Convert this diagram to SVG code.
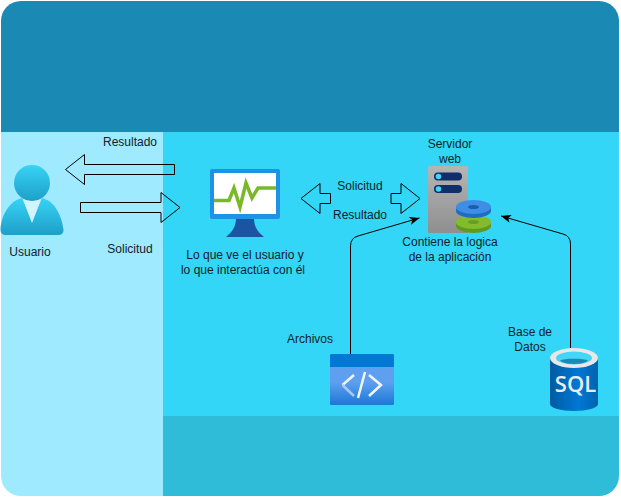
<svg xmlns="http://www.w3.org/2000/svg" width="621" height="497" viewBox="0 0 621 497">
<style>
text{font-family:"Liberation Sans",Arial,sans-serif;font-size:12px;fill:#10222a;text-anchor:middle}
.block{fill:none;stroke:#000;stroke-width:1}
.conn{fill:none;stroke:#000;stroke-width:1}
</style>
<defs>
<clipPath id="frame"><rect x="1" y="1" width="618" height="495" rx="20" ry="20"/></clipPath>
<marker id="tip" markerUnits="userSpaceOnUse" markerWidth="12" markerHeight="10" refX="10" refY="4" orient="auto"><path d="M0 0L10 4L0 8L2.5 4Z" fill="#000"/></marker>
<linearGradient id="userG" x1="0" y1="0" x2="0" y2="1"><stop offset="0" stop-color="#37d3f5"/><stop offset="1" stop-color="#1e9fc8"/></linearGradient>
<linearGradient id="srvG" x1="0" y1="0" x2="0" y2="1"><stop offset="0" stop-color="#b5b5b5"/><stop offset="1" stop-color="#8f8f8f"/></linearGradient>
<linearGradient id="codeG" x1="0" y1="0" x2="0" y2="1"><stop offset="0" stop-color="#5ea0ef"/><stop offset="0.55" stop-color="#5ea0ef"/><stop offset="1" stop-color="#1b78d6"/></linearGradient>
<linearGradient id="sqlG" x1="0" y1="0" x2="1" y2="0"><stop offset="0" stop-color="#005ba1"/><stop offset="0.6" stop-color="#0078d4"/><stop offset="1" stop-color="#0063ae"/></linearGradient>
</defs>
<g id="background" clip-path="url(#frame)">
<rect x="0" y="0" width="621" height="132" fill="#1a8ab5"/>
<rect x="0" y="132" width="163" height="365" fill="#a0eaff"/>
<rect x="163" y="132" width="458" height="285" fill="#33d6f7"/>
<rect x="163" y="416" width="458" height="81" fill="#2fbcd9"/>
</g>
<g id="connectors">
<path class="block" d="M174.500 164.500H84.500V154.500L65.500 169.500L84.500 184.500V174.500H174.500Z"/>
<path class="block" d="M80.500 202.500H161V192.500L180 207.500L161 222.500V212.500H80.500Z"/>
<path class="block" d="M330.500 193.500H320V183.500L301 198.500L320 213.500V203.500H330.500Z"/>
<path class="block" d="M391 193.500H401V183.500L420 198.500L401 213.500V203.500H391Z"/>
<path class="conn" marker-end="url(#tip)" d="M350.500 354V246Q350.500 238 358 236L419.500 218"/>
<path class="conn" marker-end="url(#tip)" d="M570.500 348V244Q570.500 236 563 234L501 216"/>
</g>
<g id="usuario">
<circle cx="32" cy="183" r="18" fill="url(#userG)"/>
<path d="M22 198C9 201 1 216 0.500 230Q0.500 235 6 235H58Q63.500 235 63.500 230C62 216 55 201 42 198L32 222Z" fill="url(#userG)"/>
<path d="M23 199L32 223L41 199Q32 203 23 199Z" fill="#d3f4ff"/>
<text x="30" y="256">Usuario</text>
</g>
<g id="monitor">
<path d="M236 218H254C254 227 258 232 264 237H226C232 232 236 227 236 218Z" fill="#1c54a4"/>
<rect x="210" y="169" width="70" height="50" rx="2" fill="#1e93e6"/>
<rect x="214" y="173" width="62" height="41" fill="#fff"/>
<path d="M214 200.500H229L234 188L240 207L246 183L252 198L258 188H276" fill="none" stroke="#7ab829" stroke-width="3.500"/>
<text x="245" y="259">Lo que ve el usuario y</text>
<text x="243" y="274">lo que interactúa con él</text>
</g>
<g id="servidor">
<text x="450" y="148">Servidor</text>
<text x="450" y="163">web</text>
<rect x="428" y="166" width="40" height="67" rx="1.500" fill="url(#srvG)"/>
<rect x="434" y="172.500" width="28" height="8" rx="4" fill="#0f2f6a"/>
<rect x="434" y="185" width="28" height="8" rx="4" fill="#0f2f6a"/>
<circle cx="438.500" cy="176.500" r="2.800" fill="#45d2f5"/>
<circle cx="438.500" cy="189" r="2.800" fill="#45d2f5"/>
<path d="M456 222V226C456 230 465 233 473.500 233S491 230 491 226V222Z" fill="#5f9a20"/>
<ellipse cx="473.500" cy="222" rx="17.500" ry="7" fill="#84bb2c"/>
<ellipse cx="473.500" cy="222" rx="5.500" ry="2" fill="#6a9c25"/>
<path d="M456 207V211C456 215 465 218 473.500 218S491 215 491 211V207Z" fill="#1f6cc2"/>
<ellipse cx="473.500" cy="207" rx="17.500" ry="7" fill="#3e8ee6"/>
<ellipse cx="473.500" cy="207" rx="5.500" ry="2" fill="#1a5fae"/>
<text x="450" y="246">Contiene la logica</text>
<text x="450" y="261">de la aplicación</text>
</g>
<g id="archivos">
<rect x="330" y="354" width="64" height="51" rx="1.500" fill="url(#codeG)"/>
<path d="M330 367V355.500Q330 354 331.500 354H392.500Q394 354 394 355.500V367Z" fill="#0078d4"/>
<path d="M354 375L342.500 385" fill="none" stroke="#f2f6fc" stroke-width="2.500"/>
<path d="M342.500 385L354 396" fill="none" stroke="#a9c8f2" stroke-width="2.500"/>
<path d="M369 375L381 385L369 396" fill="none" stroke="#f2f6fc" stroke-width="2.500"/>
<path d="M365 372L358 398" fill="none" stroke="#f2f6fc" stroke-width="2.500"/>
<text x="310" y="343">Archivos</text>
</g>
<g id="sql">
<path d="M550 358V404C550 408 561 411 574 411S598 408 598 404V358Z" fill="url(#sqlG)"/>
<ellipse cx="574" cy="358" rx="24" ry="10" fill="#e8e8e8"/>
<ellipse cx="574" cy="358" rx="18" ry="6.500" fill="#45d5f7"/>
<path d="M560 360.500C563 358 585 358 588 360.500C584 365 564 365 560 360.500Z" fill="#1a8ab5"/>
<text x="575.500" y="392" style="font-family:'Open Sans','Liberation Sans',sans-serif;font-size:22px;font-weight:600;fill:#e8eef4">SQL</text>
<text x="530" y="336">Base de</text>
<text x="530" y="351">Datos</text>
</g>
<g id="labels">
<text x="130" y="146">Resultado</text>
<text x="130" y="253">Solicitud</text>
<text x="360" y="190">Solicitud</text>
<text x="360" y="219">Resultado</text>
</g>
</svg>
